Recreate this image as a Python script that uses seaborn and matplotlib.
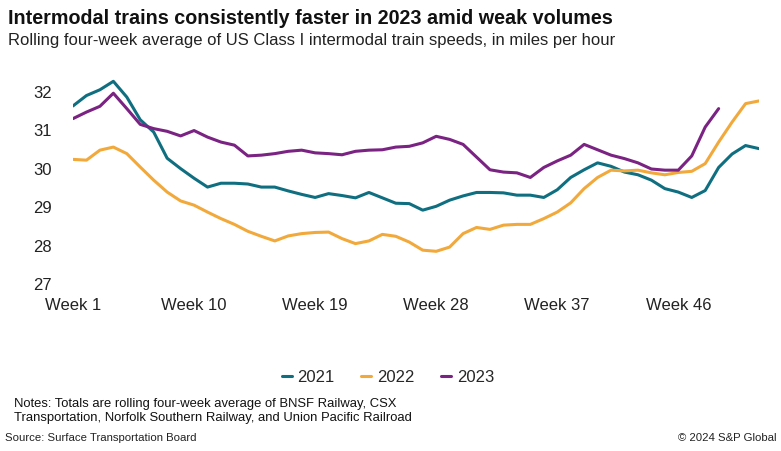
import pandas as pd
import matplotlib
matplotlib.use("Agg")
import matplotlib.pyplot as plt
import seaborn as sns
from matplotlib.lines import Line2D

# Rolling four-week average intermodal train speed (mph)
weeks_2021 = list(range(1, 53))
speed_2021 = [31.63, 31.90, 32.05, 32.27, 31.86, 31.27, 30.95, 30.27, 30.00, 29.75,
              29.52, 29.62, 29.62, 29.60, 29.52, 29.52, 29.42, 29.33, 29.25, 29.35,
              29.30, 29.24, 29.38, 29.24, 29.10, 29.09, 28.92, 29.02, 29.18, 29.29,
              29.38, 29.38, 29.37, 29.31, 29.31, 29.25, 29.45, 29.77, 29.97, 30.15,
              30.06, 29.91, 29.84, 29.70, 29.48, 29.39, 29.25, 29.43, 30.03, 30.38,
              30.60, 30.52]

weeks_2022 = list(range(1, 53))
speed_2022 = [30.24, 30.22, 30.48, 30.56, 30.39, 30.04, 29.70, 29.39, 29.16, 29.05,
              28.87, 28.70, 28.55, 28.37, 28.24, 28.12, 28.25, 28.31, 28.34, 28.35,
              28.18, 28.05, 28.12, 28.29, 28.24, 28.09, 27.88, 27.85, 27.96, 28.31,
              28.47, 28.42, 28.53, 28.55, 28.55, 28.70, 28.87, 29.11, 29.48, 29.77,
              29.96, 29.94, 29.96, 29.89, 29.84, 29.90, 29.93, 30.13, 30.69, 31.21,
              31.69, 31.76]

weeks_2023 = list(range(1, 50))
speed_2023 = [31.30, 31.47, 31.62, 31.96, 31.56, 31.15, 31.04, 30.97, 30.85, 30.99,
              30.82, 30.69, 30.61, 30.33, 30.35, 30.39, 30.45, 30.48, 30.41, 30.39,
              30.36, 30.45, 30.48, 30.49, 30.56, 30.58, 30.67, 30.84, 30.76, 30.63,
              30.30, 29.97, 29.91, 29.89, 29.77, 30.03, 30.20, 30.35, 30.63, 30.49,
              30.35, 30.26, 30.15, 29.99, 29.96, 29.96, 30.33, 31.08, 31.56]

years = ["2021", "2022", "2023"]
colors = ["#0f6f80", "#f2a93b", "#7b2383"]
tick_weeks = [1, 10, 19, 28, 37, 46]
tick_labels = ["Week 1", "Week 10", "Week 19", "Week 28", "Week 37", "Week 46"]
y_ticks = [27, 28, 29, 30, 31, 32]

df = pd.concat([
    pd.DataFrame({"week": weeks_2021, "speed": speed_2021, "year": "2021"}),
    pd.DataFrame({"week": weeks_2022, "speed": speed_2022, "year": "2022"}),
    pd.DataFrame({"week": weeks_2023, "speed": speed_2023, "year": "2023"}),
])

sns.set_style("white")
plt.rcParams["font.family"] = ["Liberation Sans", "DejaVu Sans"]

fig = plt.figure(figsize=(7.81, 4.51), dpi=100)
ax = fig.add_axes([73 / 781, (451 - 284) / 451, (759 - 73) / 781, 5.5 * 38.46 / 451])

sns.lineplot(data=df, x="week", y="speed", hue="year", hue_order=years,
             palette=colors, linewidth=2.2, ax=ax, legend=False)

ax.set_xlim(1, 52)
ax.set_ylim(27, 32.5)
ax.set_xticks(tick_weeks)
ax.set_xticklabels(tick_labels)
ax.set_yticks(y_ticks)
ax.set_xlabel("")
ax.set_ylabel("")
ax.tick_params(axis="both", length=0, labelsize=12, colors="#222222")
ax.tick_params(axis="x", pad=10)
ax.tick_params(axis="y", pad=15)
for s in ax.spines.values():
    s.set_visible(False)

handles = [Line2D([0], [0], color=c, lw=2.2) for c in colors]
fig.legend(handles, years, loc="center", bbox_to_anchor=(388 / 781, 1 - 377 / 451),
           ncol=3, frameon=False, fontsize=12, handlelength=0.6,
           handletextpad=0.35, columnspacing=1.6)

fig.text(8 / 781, 1 - 18 / 451, "Intermodal trains consistently faster in 2023 amid weak volumes",
         fontsize=14.2, fontweight="bold", va="center", ha="left", color="#111111")
fig.text(8 / 781, 1 - 40 / 451, "Rolling four-week average of US Class I intermodal train speeds, in miles per hour",
         fontsize=12, va="center", ha="left", color="#222222")
fig.text(14 / 781, 1 - 411 / 451,
         "Notes: Totals are rolling four-week average of BNSF Railway, CSX\n"
         "Transportation, Norfolk Southern Railway, and Union Pacific Railroad",
         fontsize=9.4, va="center", ha="left", color="#111111", linespacing=1.3)
fig.text(5 / 781, 1 - 438 / 451, "Source: Surface Transportation Board",
         fontsize=8.2, va="center", ha="left", color="#222222")
fig.text(776 / 781, 1 - 438 / 451, "\u00a9 2024 S&P Global",
         fontsize=8.2, va="center", ha="right", color="#222222")

fig.savefig("out.png", dpi=100)
